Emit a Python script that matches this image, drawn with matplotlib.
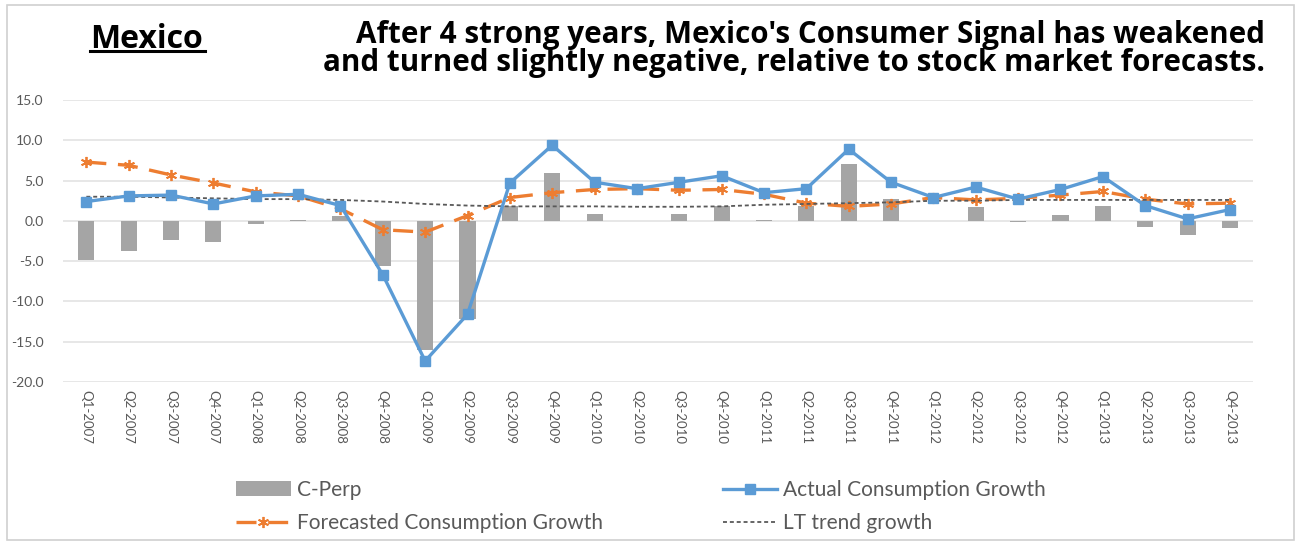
import numpy as np
import matplotlib
matplotlib.use('Agg')
import matplotlib.pyplot as plt
from matplotlib.patches import Rectangle

plt.rcParams['font.family'] = ['Lato', 'DejaVu Sans']

# quarters Q1-2007 .. Q4-2013
quarters = ['Q1-2007', 'Q2-2007', 'Q3-2007', 'Q4-2007',
            'Q1-2008', 'Q2-2008', 'Q3-2008', 'Q4-2008',
            'Q1-2009', 'Q2-2009', 'Q3-2009', 'Q4-2009',
            'Q1-2010', 'Q2-2010', 'Q3-2010', 'Q4-2010',
            'Q1-2011', 'Q2-2011', 'Q3-2011', 'Q4-2011',
            'Q1-2012', 'Q2-2012', 'Q3-2012', 'Q4-2012',
            'Q1-2013', 'Q2-2013', 'Q3-2013', 'Q4-2013']

c_perp = [-4.85, -3.8, -2.4, -2.65, -0.45, 0.15, 0.55, -5.6,
          -16.1, -12.2, 1.8, 5.9, 0.9, 0.0, 0.9, 1.8,
          0.15, 1.8, 7.05, 2.7, 0.0, 1.7, -0.2, 0.7,
          1.9, -0.75, -1.8, -0.9]

actual = [2.4, 3.1, 3.2, 2.1, 3.1, 3.3, 1.9, -6.7,
          -17.4, -11.6, 4.7, 9.4, 4.8, 4.0, 4.8, 5.6,
          3.5, 4.0, 8.9, 4.8, 2.9, 4.2, 2.7, 3.9,
          5.5, 1.9, 0.25, 1.4]

forecast = [7.3, 6.9, 5.7, 4.7, 3.6, 3.1, 1.5, -1.1,
            -1.4, 0.66, 2.9, 3.5, 3.9, 4.0, 3.8, 3.9,
            3.3, 2.2, 1.8, 2.1, 2.9, 2.6, 2.8, 3.2,
            3.65, 2.7, 2.1, 2.2]

lt_trend = [3.0, 3.0, 2.9, 2.8, 2.7, 2.7, 2.6, 2.4,
            2.1, 1.9, 1.8, 1.8, 1.8, 1.75, 1.75, 1.8,
            2.0, 2.1, 2.2, 2.3, 2.5, 2.5, 2.6, 2.6,
            2.6, 2.6, 2.6, 2.6]

yticks = [15.0, 10.0, 5.0, 0.0, -5.0, -10.0, -15.0, -20.0]

GREY_TXT = '#595959'

fig = plt.figure(figsize=(13, 5.44), dpi=100)
ax = fig.add_axes([0.0485, 0.298, 0.9155, 0.518])

x = np.arange(len(quarters))
bars = ax.bar(x, c_perp, width=0.38, color='#a5a5a5', zorder=2, label='C-Perp')
l_act, = ax.plot(x, actual, color='#5b9bd5', lw=2.4, marker='s', ms=7,
                 zorder=4, label='Actual Consumption Growth')
l_fc, = ax.plot(x, forecast, color='#ed7d31', lw=2.4, dashes=(6, 3.5),
                marker=(6, 2, 0), ms=8, mew=1.3, zorder=3,
                label='Forecasted Consumption Growth')
l_lt, = ax.plot(x, lt_trend, color='#595959', lw=1.3, dashes=(2.2, 1.6),
                zorder=3, label='LT trend growth')

ax.set_xlim(-0.55, len(quarters) - 0.45)
ax.set_ylim(-20, 15)
ax.set_yticks(yticks)
ax.set_yticklabels(['%.1f' % v for v in yticks], color=GREY_TXT, fontsize=10)
ax.set_xticks(x)
ax.set_xticklabels(quarters, rotation=270, color=GREY_TXT, fontsize=9.5)
ax.tick_params(length=0, pad=6)
ax.tick_params(axis='y', pad=14)
ax.grid(axis='y', color='#e3e3e3', lw=1.2, zorder=0)
for s in ax.spines.values():
    s.set_visible(False)

# outer frame
fig.patches.append(Rectangle((0.005, 0.008), 0.99, 0.982, transform=fig.transFigure,
                             fill=False, ec='#d0d0d0', lw=1.2))

fig.text(0.069, 0.928, 'Mexico', fontsize=23, fontweight='bold', color='black',
         family=['Open Sans', 'DejaVu Sans'], ha='left', va='center')
fig.add_artist(plt.Line2D([0.069, 0.158], [0.906, 0.906], color='black', lw=2.2,
                          transform=fig.transFigure))
fig.text(0.973, 0.91, "After 4 strong years, Mexico's Consumer Signal has weakened\n"
         "and turned slightly negative, relative to stock market forecasts.",
         fontsize=21.3, fontweight='bold', family=['Open Sans', 'DejaVu Sans'],
         ha='right', va='center', linespacing=0.95)

leg = fig.legend([bars, l_fc, l_act, l_lt],
                 ['C-Perp', 'Forecasted Consumption Growth',
                  'Actual Consumption Growth', 'LT trend growth'],
                 ncol=2, frameon=False, loc='upper left',
                 bbox_to_anchor=(0.1738, 0.137), bbox_transform=fig.transFigure,
                 borderpad=0, fontsize=15, handlelength=2.6, handletextpad=0.3,
                 columnspacing=5.75, labelspacing=0.62, labelcolor=GREY_TXT)

fig.savefig('out.png', dpi=100)
